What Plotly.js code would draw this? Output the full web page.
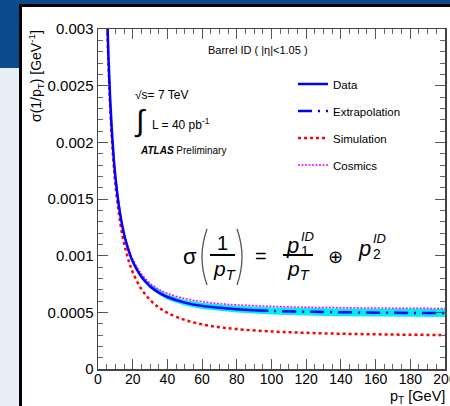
<!DOCTYPE html>
<html><head><meta charset="utf-8">
<script src="https://cdn.plot.ly/plotly-3.0.1.min.js"></script>
<style>
html,body{margin:0;padding:0;width:450px;height:406px;overflow:hidden;background:#e7eef6;position:relative}
#bluetop{position:absolute;left:0;top:0;width:450px;height:5px;background:#0b4a8c}
#blueleft{position:absolute;left:0;top:0;width:20px;height:68px;background:#0b4a8c}
#panel{position:absolute;left:19px;top:4px;width:428px;height:399px;background:#fff;border-left:3px solid #000;border-top:3px solid #000}
#chart{position:absolute;left:0;top:0;width:450px;height:406px}
</style></head>
<body>
<div id="bluetop"></div><div id="blueleft"></div><div id="panel"></div>
<div id="chart"></div>
<script>
// ---- data ----
const dataPt  = [5,6,7,8,9,10,12,14,16,18,20,25,30,35,40,50,60,70,80,90];
const dataVal = [0.00330,0.00276,0.00238,0.002095,0.001875,0.001701,0.001443,0.001262,0.001129,0.001028,0.000949,0.000814,0.000730,0.000674,0.000635,0.000586,0.000557,0.000540,0.000528,0.000519];
const extrapPt  = [90,100,120,140,160,180,200];
const extrapVal = [0.000519,0.000513,0.000505,0.000501,0.000497,0.000495,0.000494];
const simPt  = [5,6,7,8,9,10,12,14,16,18,20,25,30,35,40,50,60,70,80,100,120,140,160,180,200];
const simVal = [0.003233,0.002699,0.002318,0.002033,0.001812,0.001636,0.001372,0.001186,0.001047,0.000940,0.000855,0.000706,0.000610,0.000543,0.000495,0.000433,0.000394,0.000369,0.000352,0.000331,0.000319,0.000311,0.000306,0.000302,0.000300];
const cosVal = [0.003303,0.002768,0.002388,0.002105,0.001887,0.001713,0.001457,0.001279,0.001148,0.001048,0.000971,0.000839,0.000758,0.000704,0.000667,0.000621,0.000594,0.000577,0.000566,0.000553,0.000545,0.000541,0.000538,0.000536,0.000534];
const bandPt    = [5,10,15,20,25,30,40,50,60,80,100,120,140,160,180,200];
const bandUpper = [0.00331,0.001711,0.001203,0.000964,0.000832,0.000750,0.000658,0.000612,0.000585,0.000558,0.000545,0.000538,0.000534,0.000531,0.000530,0.000529];
const bandLower = [0.00329,0.001691,0.001179,0.000934,0.000796,0.000710,0.000612,0.000560,0.000529,0.000498,0.000481,0.000472,0.000466,0.000463,0.000460,0.000459];
const xTickVals = [0,20,40,60,80,100,120,140,160,180,200];
const xTickText = ["0","20","40","60","80","100","120","140","160","180","200"];
const yTickVals = [0,0.0005,0.001,0.0015,0.002,0.0025,0.003];
const yTickText = ["0","0.0005","0.001","0.0015","0.002","0.0025","0.003"];
const seriesNames = ["Data","Extrapolation","Simulation","Cosmics"];

// ---- layout helpers (pixel -> paper) ----
const L=98, T=29, PW=347, PH=340;
const px = x => (x-L)/PW;
const py = y => (T+PH-y)/PH;
const FONT = "Liberation Sans, Arial, Helvetica, sans-serif";
function ann(text, x, y, size, o){
  return Object.assign({text:text, x:px(x), y:py(y), xref:'paper', yref:'paper',
    showarrow:false, xanchor:'center', yanchor:'middle',
    font:{family:FONT, size:size, color:'#000'}}, o||{});
}
function line(x0,y0,x1,y1,w,c){
  return {type:'line', xref:'paper', yref:'paper', x0:px(x0), y0:py(y0), x1:px(x1), y1:py(y1),
    line:{color:c||'#000', width:w||1.5}};
}
function paren(xe, xm, y0, y1){
  const ym=(y0+y1)/2;
  return {type:'path', xref:'paper', yref:'paper',
    path:`M ${px(xe)} ${py(y0)} Q ${px(xm)} ${py(ym)} ${px(xe)} ${py(y1)}`,
    line:{color:'#555', width:1.3}};
}

const traces = [
  {x: bandPt.concat(bandPt.slice().reverse()), y: bandUpper.concat(bandLower.slice().reverse()),
   type:'scatter', mode:'lines', fill:'toself', fillcolor:'rgb(0,238,245)', line:{width:0, color:'rgb(0,238,245)'},
   showlegend:false, hoverinfo:'skip'},
  {x: simPt, y: simVal, type:'scatter', mode:'lines', name:seriesNames[2], legendrank:3, legendgroup:'c',
   line:{color:'#ff0000', width:2.5, dash:'dot', shape:'spline'}},
  {x: simPt, y: cosVal, type:'scatter', mode:'lines', name:seriesNames[3], legendrank:4, legendgroup:'d',
   line:{color:'#ff00ff', width:1.5, dash:'2px,1.5px', shape:'spline'}},
  {x: dataPt, y: dataVal, type:'scatter', mode:'lines', name:seriesNames[0], legendrank:1, legendgroup:'a',
   line:{color:'#0000ff', width:2.5, shape:'spline'}},
  {x: extrapPt, y: extrapVal, type:'scatter', mode:'lines', name:seriesNames[1], legendrank:2, legendgroup:'b',
   line:{color:'#0000ff', width:2.5, dash:'14px,6px,2px,6px', shape:'spline'}}
];

const axisCommon = {showline:true, linecolor:'#444', linewidth:1.5, mirror:'ticks', ticks:'inside',
  ticklen:10, tickwidth:1, tickcolor:'#555', showgrid:false, zeroline:false, tickmode:'array',
  ticklabeloverflow:'allow'};

const layout = {
  width:450, height:406, margin:{l:L, r:450-L-PW, t:T, b:406-T-PH},
  paper_bgcolor:'rgba(0,0,0,0)', plot_bgcolor:'rgba(0,0,0,0)',
  font:{family:FONT, color:'#000'},
  xaxis: Object.assign({}, axisCommon, {range:[0,200], tickvals:xTickVals, ticktext:xTickText,
    tickfont:{size:14, color:'#000'}, ticklabelstandoff:-3,
    minor:{tickmode:'linear', tick0:0, dtick:5, ticklen:5, tickcolor:'#666', ticks:'inside'}}),
  yaxis: Object.assign({}, axisCommon, {range:[0,0.003], tickvals:yTickVals, ticktext:yTickText,
    tickfont:{size:15, color:'#000'},
    minor:{tickmode:'linear', tick0:0, dtick:0.0001, ticklen:5, tickcolor:'#666', ticks:'inside'}}),
  showlegend:true,
  legend:{x:px(293), y:py(69.5), xanchor:'left', yanchor:'top', bgcolor:'rgba(0,0,0,0)', borderwidth:0,
    traceorder:'grouped', tracegroupgap:8, font:{family:FONT, size:11.5, color:'#000'}},
  shapes:[
    line(210,255,235,255,2), line(283,255,313,255,2),
    paren(207,197,229,285), paren(237,247,229,285)
  ],
  annotations:[
    ann('σ(1/p<sub>T</sub>) [GeV<sup>-1</sup>]', 36, 28, 14, {textangle:-90, yanchor:'top'}),
    ann('p<sub>T</sub> [GeV]', 447, 396.5, 14.5, {xanchor:'right'}),
    ann('Barrel ID ( |η|<1.05 )', 258, 50, 11),
    ann('√s= 7 TeV', 133, 95, 12, {xanchor:'left'}),
    ann('∫', 140, 121, 30),
    ann('L = 40 pb<sup>-1</sup>', 150, 124, 12, {xanchor:'left'}),
    ann('<b><i>ATLAS</i></b> Preliminary', 138, 150, 10, {xanchor:'left'}),
    ann('σ', 190, 256, 22),
    ann('1', 222, 243, 20),
    ann('<i>p</i><sub><i>T</i></sub>', 224, 270, 21),
    ann('=', 261, 256, 20),
    ann('<i>p</i>', 292, 246, 22),
    ann('<i>ID</i>', 307, 236, 13),
    ann('1', 305, 251, 14),
    ann('<i>p</i><sub><i>T</i></sub>', 298, 270, 21),
    ann('⊕', 335, 257, 18),
    ann('<i>p</i>', 364, 249, 22),
    ann('<i>ID</i>', 379, 238, 13),
    ann('2', 377, 254, 14)
  ]
};
Plotly.newPlot('chart', traces, layout, {staticPlot:true, displayModeBar:false});
</script>
</body></html>
